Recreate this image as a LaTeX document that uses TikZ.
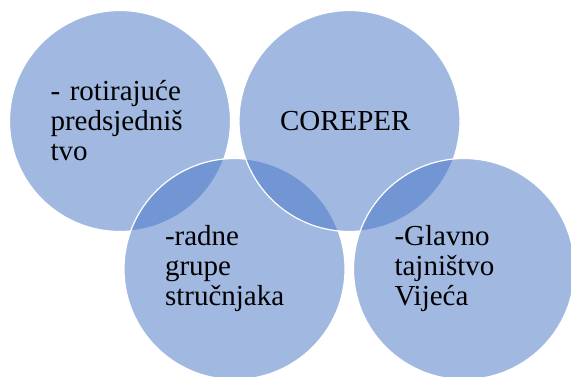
\documentclass[tikz,border=0pt]{standalone}
\usepackage{fontspec}
\setmainfont{Liberation Serif}
\usepackage{tikz}
\definecolor{venn}{HTML}{4472C4}

\begin{document}
\begin{tikzpicture}[x=1pt, y=-1pt, node distance={229.5pt}, main/.style={draw=white, line width=1.2pt, circle, fill=venn, fill opacity=0.5, text opacity=1, minimum size=221pt, inner sep=0pt, text width=139pt, align=left, font=\fontsize{29}{30}\selectfont}]
		\useasboundingbox (0,0) rectangle (571,376);
		\clip (0,0) rectangle (571,376);
		\node[main] (1) at (120,121) {- rotirajuće\\predsjedniš\\tvo};
		\node[main] (3) at (234.5,269) {-radne\\grupe\\stručnjaka};
		\node[main] (2) [right of=1] {COREPER};
		\node[main] (4) [right of=3] {-Glavno\\tajništvo\\Vijeća};
	\end{tikzpicture}
\end{document}
